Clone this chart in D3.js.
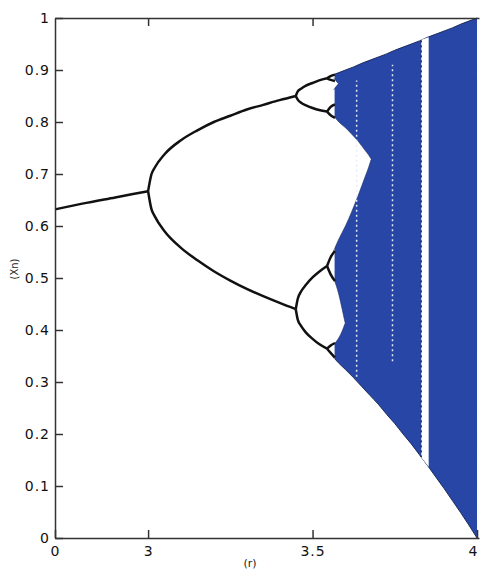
<!DOCTYPE html>
<html lang="en">
<head>
<meta charset="utf-8">
<title>Logistic map bifurcation</title>
<script src="https://cdn.jsdelivr.net/npm/d3@7"></script>
<style>
    body { margin: 0; background: #fff; }
    .axis .domain, .axis line { stroke: #333; stroke-width: 1.5; }
    .axis text { font-family: "DejaVu Sans", sans-serif; font-size: 14px; fill: #111; letter-spacing: 1px; }
    .label { font-family: "DejaVu Sans", sans-serif; fill: #222; }
</style>
</head>
<body>
<script>

    // axis ticks (the left end of the r axis is labelled "0" in the original)
    var rTicks = [2.717, 3, 3.5, 4];
    var rTickLabels = ["0", "3", "3.5", "4"];
    var xnTicks = [0, 0.1, 0.2, 0.3, 0.4, 0.5, 0.6, 0.7, 0.8, 0.9, 1];
    var xnTickLabels = ["0", "0.1", "0.2", "0.3", "0.4", "0.5", "0.6", "0.7", "0.8", "0.9", "1"];

    // stable branches, [r, Xn]
    var period1 = [[2.717, 0.632], [2.8, 0.643], [2.9, 0.655], [3.0, 0.667]];
    var period2Upper = [[3.0, 0.667], [3.01, 0.699], [3.02, 0.712], [3.05, 0.738], [3.1, 0.765], [3.15, 0.784],
                        [3.2, 0.80], [3.25, 0.812], [3.3, 0.824], [3.35, 0.833], [3.4, 0.842], [3.449, 0.85]];
    var period2Lower = [[3.0, 0.667], [3.01, 0.633], [3.02, 0.619], [3.05, 0.590], [3.1, 0.558], [3.15, 0.534],
                        [3.2, 0.513], [3.25, 0.495], [3.3, 0.479], [3.35, 0.465], [3.4, 0.452], [3.449, 0.44]];
    var period4 = [
        [[3.449, 0.85], [3.455, 0.859], [3.465, 0.864], [3.48, 0.870], [3.5, 0.875], [3.52, 0.880], [3.544, 0.884]],
        [[3.449, 0.85], [3.455, 0.843], [3.465, 0.837], [3.48, 0.832], [3.5, 0.827], [3.52, 0.823], [3.544, 0.820]],
        [[3.449, 0.44], [3.455, 0.460], [3.465, 0.474], [3.48, 0.487], [3.5, 0.501], [3.52, 0.512], [3.544, 0.523]],
        [[3.449, 0.44], [3.455, 0.420], [3.465, 0.408], [3.48, 0.395], [3.5, 0.383], [3.52, 0.373], [3.544, 0.364]]
    ];
    var period8 = [
        [[3.544, 0.884], [3.555, 0.888], [3.568, 0.891]],
        [[3.544, 0.884], [3.555, 0.881], [3.568, 0.879]],
        [[3.544, 0.820], [3.555, 0.829], [3.568, 0.834]],
        [[3.544, 0.820], [3.555, 0.813], [3.568, 0.808]],
        [[3.544, 0.523], [3.555, 0.540], [3.568, 0.552]],
        [[3.544, 0.523], [3.555, 0.507], [3.568, 0.494]],
        [[3.544, 0.364], [3.555, 0.370], [3.568, 0.375]],
        [[3.544, 0.364], [3.555, 0.356], [3.568, 0.347]]
    ];

    // chaotic region, [r, lowest Xn, highest Xn]
    var chaos = [[3.567, 0.345, 0.892], [3.58, 0.336, 0.895], [3.6, 0.324, 0.90], [3.625, 0.308, 0.906],
                 [3.65, 0.291, 0.913], [3.675, 0.274, 0.919], [3.7, 0.257, 0.925], [3.725, 0.238, 0.931],
                 [3.75, 0.220, 0.938], [3.775, 0.200, 0.944], [3.8, 0.181, 0.95], [3.825, 0.160, 0.956],
                 [3.85, 0.139, 0.963], [3.875, 0.117, 0.969], [3.9, 0.095, 0.975], [3.925, 0.072, 0.981],
                 [3.95, 0.049, 0.988], [3.975, 0.025, 0.994], [4, 0, 1]];

    // white gaps between the chaotic bands, [r, lo, hi]
    var gapMiddle = [[3.564, 0.552, 0.812], [3.58, 0.575, 0.80], [3.6, 0.600, 0.789], [3.62, 0.629, 0.776],
                     [3.64, 0.661, 0.762], [3.66, 0.695, 0.745], [3.67, 0.712, 0.737], [3.678, 0.728, 0.729]];
    var gapLower = [[3.564, 0.372, 0.50], [3.58, 0.385, 0.468], [3.59, 0.398, 0.440], [3.599, 0.413, 0.414]];
    var gapUpper = [[3.564, 0.862, 0.885], [3.574, 0.870, 0.877], [3.578, 0.873, 0.874]];

    // period 3 window, [r, lo, hi]
    var window3 = [[3.8305, 0.155, 0.958], [3.853, 0.137, 0.963]];
    // narrow windows, [r, lo, hi]
    var thinWindows = [[3.634, 0.31, 0.88], [3.743, 0.34, 0.91]];

    var blue = "#2746a6";

    var svg = d3.select("body")
        .append("svg")
        .attr("width", 480)
        .attr("height", 572);

    var x = d3.scaleLinear().domain([2.717, 4.006]).range([55, 479]);
    var y = d3.scaleLinear().domain([0, 1]).range([538, 18]);

    var band = d3.area()
        .x(function(d) { return x(d[0]); })
        .y0(function(d) { return y(d[1]); })
        .y1(function(d) { return y(d[2]); })
        .curve(d3.curveMonotoneX);

    var bandLo = d3.line()
        .x(function(d) { return x(d[0]); })
        .y(function(d) { return y(d[1]); })
        .curve(d3.curveMonotoneX);

    var bandHi = d3.line()
        .x(function(d) { return x(d[0]); })
        .y(function(d) { return y(d[2]); })
        .curve(d3.curveMonotoneX);

    // draws a filled band and outlines only its upper and lower edges
    function draw_band(data, fill, edge, edge_width) {
        svg.append("path").datum(data)
            .attr("d", band)
            .attr("fill", fill);
        [bandLo, bandHi].forEach(function(gen) {
            svg.append("path").datum(data)
                .attr("d", gen)
                .attr("fill", "none")
                .attr("stroke", edge)
                .attr("stroke-width", edge_width);
        });
    }

    // blue chaotic region and the gaps inside it
    draw_band(chaos, blue, "#14224f", 0.9);
    draw_band(gapMiddle, "#fff", "#1b2b62", 0.6);
    draw_band(gapLower, "#fff", "#1b2b62", 0.6);
    draw_band(gapUpper, "#fff", "#1b2b62", 0.6);

    // period 3 window
    svg.append("path").datum(window3)
        .attr("d", d3.area()
            .x(function(d) { return x(d[0]); })
            .y0(function(d) { return y(d[1]); })
            .y1(function(d) { return y(d[2]); }))
        .attr("fill", "#fff");
    svg.append("line")
        .attr("x1", x(window3[0][0])).attr("x2", x(window3[0][0]))
        .attr("y1", y(window3[0][1])).attr("y2", y(window3[0][2]))
        .attr("stroke", "#111")
        .attr("stroke-width", 1)
        .attr("stroke-dasharray", "2,3");

    // narrow windows, speckled
    svg.selectAll(".thin")
        .data(thinWindows)
        .enter()
        .append("line")
        .attr("x1", function(d) { return x(d[0]); })
        .attr("x2", function(d) { return x(d[0]); })
        .attr("y1", function(d) { return y(d[1]); })
        .attr("y2", function(d) { return y(d[2]); })
        .attr("stroke", "#e8ecf8")
        .attr("stroke-width", 1.5)
        .attr("stroke-dasharray", "2,3");

    // stable branches
    var branches = [period1, period2Upper, period2Lower].concat(period4, period8);
    svg.selectAll(".branch")
        .data(branches)
        .enter()
        .append("path")
        .attr("d", bandLo)
        .attr("fill", "none")
        .attr("stroke", "#111")
        .attr("stroke-width", 2.5);

    // axes
    var xAxis = svg.append("g")
        .attr("class", "axis")
        .attr("transform", "translate(0,538)")
        .call(d3.axisBottom(x)
            .tickValues(rTicks)
            .tickFormat(function(d, i) { return rTickLabels[i]; })
            .tickSizeInner(-8).tickSizeOuter(0).tickPadding(8));

    // keep the last label inside the picture
    xAxis.selectAll(".tick text")
        .filter(function(d) { return d === 4; })
        .attr("text-anchor", "end")
        .style("letter-spacing", "0px");

    svg.append("g")
        .attr("class", "axis")
        .attr("transform", "translate(55,0)")
        .call(d3.axisLeft(y)
            .tickValues(xnTicks)
            .tickFormat(function(d, i) { return xnTickLabels[i]; })
            .tickSizeInner(-8).tickSizeOuter(0).tickPadding(5));

    svg.append("g")
        .attr("class", "axis")
        .attr("transform", "translate(0,18)")
        .call(d3.axisTop(x)
            .tickValues([3, 3.5])
            .tickFormat("")
            .tickSizeInner(-8).tickSizeOuter(0));

    // axis titles
    svg.append("text")
        .attr("class", "label")
        .attr("x", 250).attr("y", 567)
        .attr("text-anchor", "middle")
        .style("font-size", "11px")
        .text("(r)");

    svg.append("text")
        .attr("class", "label")
        .attr("transform", "translate(18,269) rotate(-90)")
        .attr("text-anchor", "middle")
        .style("font-size", "10px")
        .text("(Xn)");

</script>
</body>
</html>
